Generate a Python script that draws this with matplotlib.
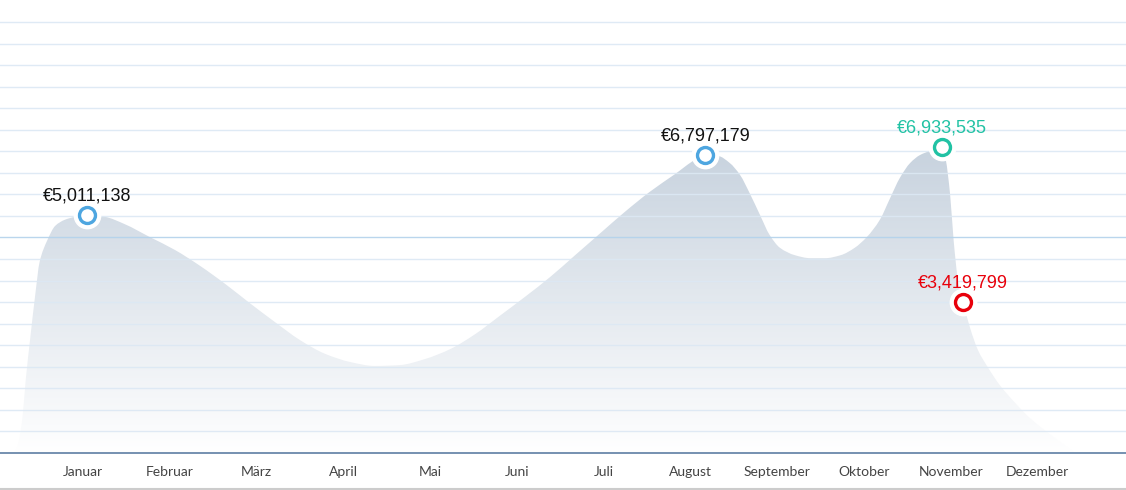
import numpy as np
import matplotlib
matplotlib.use('Agg')
import matplotlib.pyplot as plt
from matplotlib.lines import Line2D
from matplotlib.path import Path

# monthly axis labels
months = ['Januar', 'Februar', 'März', 'April', 'Mai', 'Juni', 'Juli',
          'August', 'September', 'Oktober', 'November', 'Dezember']

# curve: position in months (0 = Januar), value in Mio. €
curve_x = [-0.79, -0.75, -0.70, -0.66, -0.61, -0.55, -0.50, -0.41, -0.32, -0.21, -0.09,
           0.05, 0.25, 0.48, 0.77, 1.06, 1.35, 1.64, 1.92, 2.21, 2.50, 2.79, 3.08,
           3.36, 3.65, 3.94, 4.23, 4.52, 4.80, 5.09, 5.38, 5.67, 5.96, 6.24, 6.53,
           6.82, 7.05, 7.17, 7.32, 7.45, 7.57, 7.68, 7.80, 7.91, 8.03, 8.20, 8.38,
           8.55, 8.73, 8.89, 9.03, 9.18, 9.30, 9.41, 9.53, 9.64, 9.76, 9.90, 9.94,
           9.99, 10.03, 10.08, 10.14, 10.22, 10.31, 10.43, 10.56, 10.74, 10.91,
           11.08, 11.23, 11.35, 11.43]
curve_v = [0.00, 0.19, 0.77, 1.69, 2.62, 3.67, 4.43, 4.94, 5.27, 5.41, 5.48,
           5.52, 5.48, 5.31, 5.01, 4.71, 4.34, 3.92, 3.48, 3.04, 2.62, 2.30, 2.11,
           2.02, 2.04, 2.18, 2.41, 2.76, 3.18, 3.62, 4.08, 4.59, 5.10, 5.59, 6.06,
           6.47, 6.80, 6.91, 6.89, 6.73, 6.45, 6.03, 5.52, 5.06, 4.76, 4.59, 4.52,
           4.52, 4.59, 4.76, 5.01, 5.41, 5.92, 6.38, 6.73, 6.91, 7.01, 7.10, 6.80,
           5.99, 4.94, 4.01, 3.50, 2.90, 2.39, 1.97, 1.58, 1.16, 0.81,
           0.53, 0.30, 0.12, 0.00]

# highlighted points
mark_x = [0.05, 7.17, 9.90, 10.14]
mark_v = [5.52, 6.91, 7.10, 3.50]
mark_labels = ['€5,011,138', '€6,797,179', '€6,933,535', '€3,419,799']
mark_colors = ['#4ea6e0', '#4ea6e0', '#21c2a4', '#e8000b']
label_colors = ['#111111', '#111111', '#21c2a4', '#e8000b']

target = 5.0


def smooth_area_path(xs, ys):
    # monotone cubic (Fritsch-Carlson) drawn as bezier segments, closed to y=0
    xs = np.asarray(xs, float)
    ys = np.asarray(ys, float)
    h = np.diff(xs)
    d = np.diff(ys) / h
    m = np.zeros_like(ys)
    m[0], m[-1] = d[0], d[-1]
    for k in range(1, len(ys) - 1):
        if d[k - 1] * d[k] > 0:
            w1 = 2 * h[k] + h[k - 1]
            w2 = h[k] + 2 * h[k - 1]
            m[k] = (w1 + w2) / (w1 / d[k - 1] + w2 / d[k])
    verts = [(xs[0], 0), (xs[0], ys[0])]
    codes = [Path.MOVETO, Path.LINETO]
    for k in range(len(xs) - 1):
        verts += [(xs[k] + h[k] / 3, ys[k] + m[k] * h[k] / 3),
                  (xs[k + 1] - h[k] / 3, ys[k + 1] - m[k + 1] * h[k] / 3),
                  (xs[k + 1], ys[k + 1])]
        codes += [Path.CURVE4] * 3
    verts += [(xs[-1], 0), (xs[0], 0)]
    codes += [Path.LINETO, Path.CLOSEPOLY]
    return Path(verts, codes)


W, H = 1126, 490
fig = plt.figure(figsize=(W / 100, H / 100), dpi=100)
ax = fig.add_axes([0, 37 / H, 1, 453 / H])
ax.set_xlim(-0.956, 12.016)
ax.set_ylim(0, 10.51)

# gradient area
area = smooth_area_path(curve_x, curve_v)
top_c = np.array([199, 210, 222]) / 255
bot_c = np.array([255, 255, 255]) / 255
t = np.linspace(0, 1, 256)[:, None]
grad = (bot_c * (1 - t) + top_c * t)[:, None, :]
img = ax.imshow(grad, extent=[min(curve_x), max(curve_x), 0, max(curve_v)],
                origin='lower', aspect='auto', zorder=1)
img.set_clip_path(area, transform=ax.transData)

# horizontal grid
for gy in np.arange(0.5, 10.01, 0.5):
    col = '#b3d2ec' if abs(gy - target) < 1e-6 else '#dce8f4'
    ax.axhline(gy, color=col, lw=1, zorder=2, alpha=0.9)

for sp in ['top', 'left', 'right']:
    ax.spines[sp].set_visible(False)
ax.spines['bottom'].set_color('#5e7ea3')
ax.spines['bottom'].set_linewidth(1.2)
ax.set_yticks([])
ax.set_xticks(range(len(months)))
ax.set_xticklabels(months, fontfamily='Lato', fontsize=10, color='#444444')
ax.tick_params(axis='x', length=0, pad=9)
ax.set_facecolor('white')

# markers with white halo
for x, v, lab, mc, lc in zip(mark_x, mark_v, mark_labels, mark_colors, label_colors):
    ax.plot(x, v, 'o', ms=19, mfc='white', mec='white', zorder=4, clip_on=False)
    ax.plot(x, v, 'o', ms=11.5, mfc='white', mec=mc, mew=2.4, zorder=5, clip_on=False)
    ax.annotate(lab, (x, v), xytext=(0, 10.5), textcoords='offset points',
                ha='center', va='baseline', fontsize=13, color=lc,
                fontfamily='Liberation Sans', zorder=6)

fig.add_artist(Line2D([0, 1], [1.5 / H, 1.5 / H], color='#cccccc', lw=1.5))

plt.savefig('out.png', dpi=100)
